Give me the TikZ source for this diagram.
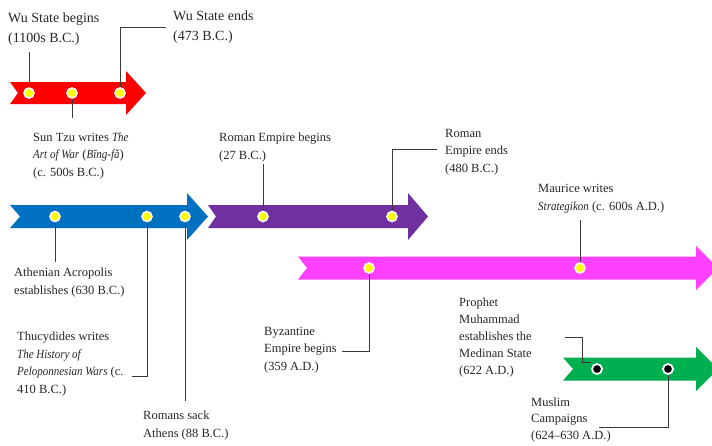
\documentclass[tikz,border=0pt]{standalone}
\usepackage{fontspec}
\usepackage{graphicx}
\setmainfont{Liberation Serif}
\newcommand\ital[1]{\scalebox{0.88}[1]{\textit{#1}}}
\definecolor{cred}{HTML}{FF0000}
\definecolor{cblue}{HTML}{0070C0}
\definecolor{cpurple}{HTML}{7030A0}
\definecolor{cmagenta}{HTML}{FF40FF}
\definecolor{cgreen}{HTML}{00B050}
\definecolor{cyell}{HTML}{FFFF00}
\definecolor{cline}{HTML}{3A3A3A}
\begin{document}
\begin{tikzpicture}[x=1pt,y=-1pt,
  ydot/.style={circle,inner sep=0pt,minimum size=10pt,fill=cyell,draw=white,line width=1.6pt},
  kdot/.style={circle,inner sep=0pt,minimum size=10pt,fill=black,draw=white,line width=1.8pt},
  lbl/.style={anchor=base west,inner sep=0pt,align=left,font=\fontsize{12.5}{17.5}\selectfont,text=black!85},
  biglbl/.style={anchor=base west,inner sep=0pt,align=left,font=\fontsize{14}{20}\selectfont,text=black!85},
  conn/.style={draw=cline,line width=0.9pt}]
\useasboundingbox (0,0) rectangle (712,445);
% arrows
\fill[cred] (10,82) -- (126,82) -- (126,71) -- (146,93) -- (126,115) -- (126,104) -- (10,104) -- (18,93) -- cycle;
\fill[cblue] (10,205) -- (187,205) -- (187,193) -- (208,216.5) -- (187,240) -- (187,228) -- (10,228) -- (20,216.5) -- cycle;
\fill[cpurple] (208,205) -- (408,205) -- (408,193) -- (428,216.5) -- (408,240) -- (408,228) -- (208,228) -- (216,216.5) -- cycle;
\fill[cmagenta] (298,256.5) -- (696,256.5) -- (696,246) -- (718,268) -- (696,290) -- (696,279.5) -- (298,279.5) -- (307,268) -- cycle;
\fill[cgreen] (563,357.5) -- (696,357.5) -- (696,347) -- (718,369) -- (696,391) -- (696,380.5) -- (563,380.5) -- (573,369) -- cycle;
% coordinates for connector ends
\coordinate (e1) at (29,52);
\coordinate (e2) at (72,118);
\coordinate (e3) at (166,27);
\coordinate (e4) at (55,262);
\coordinate (e5) at (132,376);
\coordinate (e6) at (185,401);
\coordinate (e7) at (263,164);
\coordinate (e8) at (437,149);
\coordinate (e9) at (342,351);
\coordinate (e10) at (580,220);
\coordinate (e11) at (565,337);
\coordinate (e11b) at (591,362);
\coordinate (e12) at (599,427);
% connectors (drawn under dots)
\draw[conn] (29,93) -- (e1);
\draw[conn] (72,93) -- (e2);
\draw[conn] (120,93) |- (e3);
\draw[conn] (55,216.5) -- (e4);
\draw[conn] (147,216.5) |- (e5);
\draw[conn] (185,216.5) -- (e6);
\draw[conn] (263,216.5) -- (e7);
\draw[conn] (392,216.5) |- (e8);
\draw[conn] (369,268) |- (e9);
\draw[conn] (580,268) -- (e10);
\draw[conn] (e11) -| (e11b -| 582,0) -- (e11b);
\draw[conn] (668,369) |- (e12);
% dots
\node[ydot] (r1) at (29,93) {};
\node[ydot] (r2) at (72,93) {};
\node[ydot] (r3) at (120,93) {};
\node[ydot] (b1) at (55,216.5) {};
\node[ydot] (b2) at (147,216.5) {};
\node[ydot] (b3) at (185,216.5) {};
\node[ydot] (p1) at (263,216.5) {};
\node[ydot] (p2) at (392,216.5) {};
\node[ydot] (m1) at (369,268) {};
\node[ydot] (m2) at (580,268) {};
\node[kdot] (g1) at (597,369) {};
\node[kdot] (g2) at (668,369) {};
% labels (anchored at the baseline of their last line)
\node[biglbl] (t1) at (8,42) {Wu State begins\\(1100s B.C.)};
\node[biglbl] (t2) at (173,40) {Wu State ends\\(473 B.C.)};
\node[lbl] (t3) at (33,176) {Sun Tzu writes \ital{The}\\\ital{Art of War} (\ital{Bīng-fǎ})\\(c. 500s B.C.)};
\node[lbl] (t4) at (14,294) {Athenian Acropolis\\establishes (630 B.C.)};
\node[lbl] (t5) at (17,393) {Thucydides writes\\\ital{The History of}\\\ital{Peloponnesian Wars} (c.\\410 B.C.)};
\node[lbl] (t6) at (143,437) {Romans sack\\Athens (88 B.C.)};
\node[lbl] (t7) at (219,159) {Roman Empire begins\\(27 B.C.)};
\node[lbl] (t8) at (445,172) {Roman\\Empire ends\\(480 B.C.)};
\node[lbl] (t9) at (538,210) {Maurice writes\\\ital{Strategikon} (c. 600s A.D.)};
\node[lbl] (t10) at (264,370) {Byzantine\\Empire begins\\(359 A.D.)};
\node[lbl,font=\fontsize{12.5}{17}\selectfont] (t11) at (459,374) {Prophet\\Muhammad\\establishes the\\Medinan State\\(622 A.D.)};
\node[lbl,font=\fontsize{12.5}{16.5}\selectfont] (t12) at (531,439) {Muslim\\Campaigns\\(624–630 A.D.)};
\end{tikzpicture}
\end{document}
